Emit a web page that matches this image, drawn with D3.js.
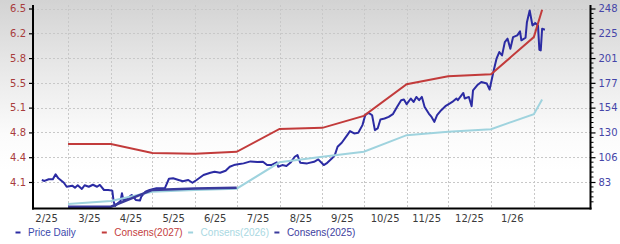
<!DOCTYPE html>
<html><head><meta charset="utf-8">
<script src="https://cdn.jsdelivr.net/npm/d3@7"></script>
<style>body{margin:0;background:#fff}svg{display:block}</style>
</head><body><svg id="c" width="620" height="244"></svg>
<script>
// ---------- data ----------
const priceDates = ["2025-02-10","2025-02-12","2025-02-15","2025-02-18","2025-02-20","2025-02-22","2025-02-26","2025-02-28",
"2025-03-04","2025-03-06","2025-03-08","2025-03-11","2025-03-13","2025-03-16","2025-03-19","2025-03-22","2025-03-24","2025-03-27","2025-03-30",
"2025-04-02","2025-04-03","2025-04-04","2025-04-06","2025-04-08","2025-04-09","2025-04-10","2025-04-13","2025-04-16","2025-04-19","2025-04-22","2025-04-23","2025-04-26","2025-04-29",
"2025-05-04","2025-05-10","2025-05-13","2025-05-16","2025-05-20","2025-05-23","2025-05-27","2025-05-30",
"2025-06-02","2025-06-07","2025-06-12","2025-06-15","2025-06-19","2025-06-23","2025-06-26","2025-06-29",
"2025-07-02","2025-07-06","2025-07-11","2025-07-16","2025-07-20","2025-07-23","2025-07-26","2025-07-30","2025-07-31",
"2025-08-03","2025-08-06","2025-08-09","2025-08-12","2025-08-14","2025-08-16","2025-08-21","2025-08-26","2025-08-29",
"2025-09-02","2025-09-04","2025-09-08","2025-09-10","2025-09-12","2025-09-15","2025-09-19","2025-09-21","2025-09-24","2025-09-27","2025-09-30",
"2025-10-02","2025-10-04","2025-10-06","2025-10-07","2025-10-09","2025-10-11","2025-10-13","2025-10-16","2025-10-19","2025-10-22","2025-10-25","2025-10-28","2025-10-30",
"2025-11-01","2025-11-04","2025-11-06","2025-11-08","2025-11-10","2025-11-12","2025-11-14","2025-11-17","2025-11-19","2025-11-21","2025-11-23","2025-11-26","2025-11-29",
"2025-12-02","2025-12-04","2025-12-07","2025-12-08","2025-12-12","2025-12-13","2025-12-16","2025-12-18","2025-12-19","2025-12-22","2025-12-25","2025-12-29","2025-12-31",
"2026-01-03","2026-01-05","2026-01-07","2026-01-09","2026-01-11","2026-01-13","2026-01-15","2026-01-17","2026-01-20","2026-01-22","2026-01-23","2026-01-26","2026-01-27","2026-01-29","2026-01-31",
"2026-02-02","2026-02-04","2026-02-05","2026-02-06","2026-02-07","2026-02-09"];
const priceValues = [84.9,84.0,85.6,85.6,90.3,86.5,82.3,78.5,
79.5,77.6,79.9,76.4,79.9,78.5,80.4,78.5,80.2,75.4,75.4,
74.8,64.3,60.2,62.8,65.0,72.3,65.9,67.5,70.7,65.9,65.3,69.1,73.8,75.4,
77.0,77.0,86.1,86.5,84.9,83.7,84.9,82.3,
84.9,89.6,91.8,92.8,91.8,93.7,97.5,99.1,
99.8,100.7,102.6,102.0,102.2,99.1,99.1,101.7,97.5,
99.1,98.2,101.5,107.0,108.6,101.3,100.7,102.2,104.5,
99.1,100.7,105.5,108.6,116.5,120.3,127.6,131.4,129.2,129.8,137.1,
146.5,148.7,147.5,146.5,132.3,133.9,142.5,143.4,144.9,147.5,154.4,160.8,161.4,
157.0,162.4,159.1,163.9,160.8,163.9,154.4,148.1,144.9,140.2,146.5,151.3,155.1,
157.6,159.1,162.4,160.8,167.7,162.4,163.9,155.1,170.2,175.0,178.1,176.6,170.9,
189.2,200.3,206.6,203.4,216.0,219.3,209.8,220.8,222.4,226.2,217.7,220.2,235.0,246.1,231.9,
234.1,231.9,208.8,208.2,228.7,227.8];

const consDates = ["2025-03-01","2025-04-01","2025-05-01","2025-06-01","2025-07-01","2025-08-01","2025-09-01",
"2025-10-01","2025-11-01","2025-12-01","2026-01-01","2026-02-01","2026-02-07"];
const cons2027 = [4.624,4.624,4.500,4.490,4.518,4.834,4.849,5.014,5.452,5.562,5.590,6.104,6.482];
const cons2026 = [3.797,3.838,3.966,3.990,4.008,4.372,4.449,4.518,4.748,4.794,4.831,5.038,5.241];
const cons2025 = [3.759,3.759,3.990,4.010,4.021];

const leftTicks = [4.1,4.443,4.786,5.129,5.471,5.814,6.157,6.5];
const leftTickLabels = ["4.1","4.4","4.8","5.1","5.5","5.8","6.2","6.5"];
const rightTicks = [83,106.57,130.14,153.71,177.29,200.86,224.43,248];
const rightTickLabels = ["83","106","130","154","177","201","225","248"];
const monthStarts = ["2025-02-01","2025-03-01","2025-04-01","2025-05-01","2025-06-01","2025-07-01","2025-08-01",
"2025-09-01","2025-10-01","2025-11-01","2025-12-01","2026-01-01","2026-02-01"];
const monthLabels = ["2/25","3/25","4/25","5/25","6/25","7/25","8/25","9/25","10/25","11/25","12/25","1/26"];
const legendLabels = ["Price Daily","Consens(2027)","Consens(2026)","Consens(2025)"];
const legendColors = ["#2b2ba3","#c23b3b","#9fd3de","#3a3a9c"];
const legendTextColors = ["#3b48ab","#c44040","#a9d8e2","#3d3d9e"];

// ---------- chart ----------
const parse = d3.utcParse("%Y-%m-%d");
const svg = d3.select("#c");
const W = 620, H = 244;
const x0 = 33, x1 = 590.5, yTop = 5, yBot = 208.5;

const x = d3.scaleUtc().domain([parse("2025-02-04"), parse("2026-03-14")]).range([33.5, 590.5]);
const yL = d3.scaleLinear().domain([4.1, 6.5]).range([182, 8.5]);
const yR = d3.scaleLinear().domain([83, 248]).range([182, 8.5]);

const defs = svg.append("defs");
const g = defs.append("linearGradient").attr("id","bg").attr("x1",0).attr("y1",0).attr("x2",0).attr("y2",1);
g.append("stop").attr("offset","0%").attr("stop-color","#d3d3d3");
g.append("stop").attr("offset","25%").attr("stop-color","#e6e6e6");
g.append("stop").attr("offset","55%").attr("stop-color","#fbfbfb");
g.append("stop").attr("offset","70%").attr("stop-color","#ffffff");
svg.append("rect").attr("width",W).attr("height",H).attr("fill","url(#bg)");

// grid
const grid = svg.append("g").attr("stroke","#c8c8c8").attr("stroke-width",1).attr("stroke-dasharray","2,2");
grid.selectAll("line.h").data(leftTicks).join("line")
  .attr("x1",x0).attr("x2",x1).attr("y1",d=>Math.round(yL(d))+0.5).attr("y2",d=>Math.round(yL(d))+0.5);
grid.selectAll("line.v").data(monthStarts.slice(1)).join("line")
  .attr("x1",d=>Math.round(x(parse(d)))+0.5).attr("x2",d=>Math.round(x(parse(d)))+0.5).attr("y1",yTop).attr("y2",yBot);

// lines
const priceData = priceDates.map((d,i)=>({d:parse(d), v:priceValues[i]}));
const lineR = d3.line().x(p=>x(p.d)).y(p=>yR(p.v));
const lineL = d3.line().x(p=>x(p.d)).y(p=>yL(p.v));
const mk = arr => arr.map((v,i)=>({d:parse(consDates[i]), v}));

svg.append("path").datum(priceData).attr("d",lineR).attr("fill","none").attr("stroke",legendColors[0]).attr("stroke-width",2).attr("stroke-linejoin","round");
svg.append("path").datum(mk(cons2026)).attr("d",lineL).attr("fill","none").attr("stroke",legendColors[2]).attr("stroke-width",2);
svg.append("path").datum(mk(cons2025)).attr("d",lineL).attr("fill","none").attr("stroke",legendColors[3]).attr("stroke-width",2.5);
svg.append("path").datum(mk(cons2027)).attr("d",lineL).attr("fill","none").attr("stroke",legendColors[1]).attr("stroke-width",2);

// axes
const ax = svg.append("g");
const leftAxis = d3.axisLeft(yL).tickValues(leftTicks).tickFormat((d,i)=>leftTickLabels[i]).tickSize(4).tickPadding(3);
const la = ax.append("g").attr("transform",`translate(${x0},0)`).call(leftAxis);
la.select(".domain").remove();
la.selectAll(".tick line").attr("stroke","#000").attr("stroke-width",1.2);
la.selectAll("text").attr("fill","#a83c3c").attr("font-family","DejaVu Sans, Verdana, sans-serif").attr("font-size","10px");

const rightAxis = d3.axisRight(yR).tickValues(rightTicks).tickFormat((d,i)=>rightTickLabels[i]).tickSize(5).tickPadding(3);
const ra = ax.append("g").attr("transform",`translate(${x1},0)`).call(rightAxis);
ra.select(".domain").remove();
ra.selectAll(".tick line").attr("stroke","#000").attr("stroke-width",1.2);
ra.selectAll("text").attr("fill","#4545a8").attr("font-family","DejaVu Sans, Verdana, sans-serif").attr("font-size","10px");
// minor ticks on right axis
const minorVals = d3.range(0, 40).map(i=>248 - i*(rightTicks[1]-rightTicks[0])/5).filter(v=>yR(v) < yBot-3 && !rightTicks.some(t=>Math.abs(t-v)<0.5));
ra.selectAll("line.minor").data(minorVals).join("line").attr("class","minor")
  .attr("x1",0).attr("x2",3).attr("y1",d=>yR(d)).attr("y2",d=>yR(d)).attr("stroke","#000").attr("stroke-width",1);

// axis lines
ax.append("line").attr("x1",x0).attr("x2",x0).attr("y1",yTop).attr("y2",yBot+1).attr("stroke","#000").attr("stroke-width",2);
ax.append("line").attr("x1",x1).attr("x2",x1).attr("y1",yTop).attr("y2",yBot+1).attr("stroke","#000").attr("stroke-width",2);
ax.append("line").attr("x1",x0-1).attr("x2",x1+1).attr("y1",yBot).attr("y2",yBot).attr("stroke","#000").attr("stroke-width",2);

// x labels (centered within month, before next month start)
svg.append("g").selectAll("text").data(monthLabels).join("text")
  .attr("x",(d,i)=>x(parse(monthStarts[i+1])) - 21.5)
  .attr("y",218.5).attr("dy","0.35em").attr("text-anchor","middle")
  .attr("fill","#3a3a3a").attr("font-family","DejaVu Sans, Verdana, sans-serif").attr("font-size","10px")
  .text(d=>d);

// legend
const leg = svg.append("g").attr("font-family","Liberation Sans, Arial, sans-serif").attr("font-size","10px");
const items = leg.selectAll("g").data(legendLabels).join("g").attr("transform",(d,i)=>`translate(${18 + i*86.3},232.5)`);
items.append("line").attr("x1",-2.5).attr("x2",2.5).attr("y1",0).attr("y2",0).attr("stroke",(d,i)=>legendColors[i]).attr("stroke-width",2);
items.append("text").attr("x",10).attr("dy","0.35em").attr("fill",(d,i)=>legendTextColors[i]).text(d=>d);
</script></body></html>
